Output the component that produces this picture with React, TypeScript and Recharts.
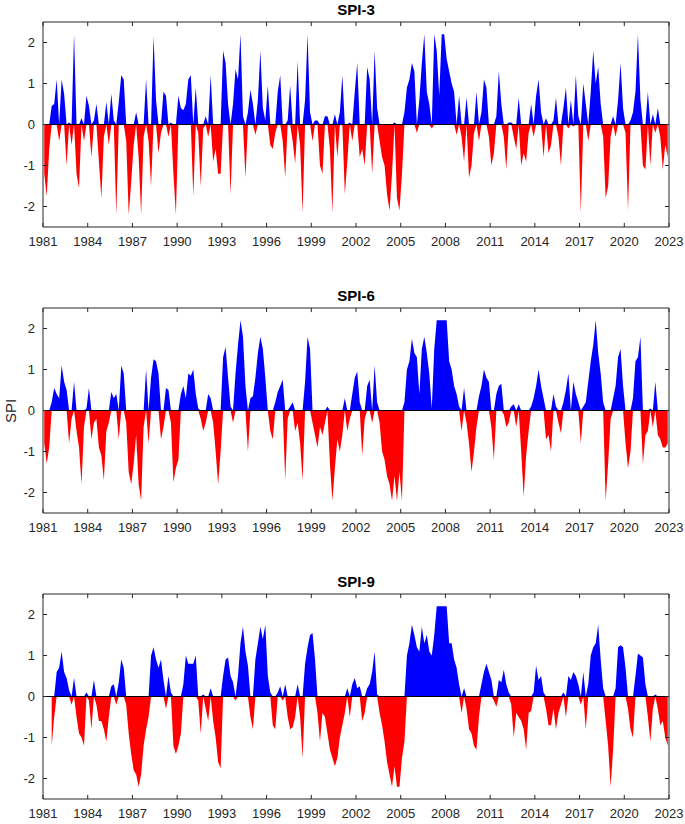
import { AreaChart, Area, XAxis, YAxis, ReferenceLine, ReferenceArea } from "recharts";

// ── Data: SPI values, bimonthly (Jan, Mar, May, Jul, Sep, Nov), 1981–2022 ──

const START_YEAR = 1981;
const END_YEAR = 2023;
const STEPS_PER_YEAR = 6;

const YEAR_TICKS = [1981, 1984, 1987, 1990, 1993, 1996, 1999, 2002, 2005, 2008, 2011, 2014, 2017, 2020, 2023];
const SPI_TICKS = [-2, -1, 0, 1, 2];
const SPI_MIN = -2.5;
const SPI_MAX = 2.5;

const spi3: (number | null)[] = [
  -1.2, -1.75, -0.6, 0.45, 0.5, 1.1,   // 1981
  -0.4, 1.1, 0.75, -1.0, 0.05, -0.5,   // 1982
  2.2, -1.2, -1.55, 0.15, -0.4, 0.7,   // 1983
  0.45, -0.8, 0.1, 0.5, -0.9, -1.8,    // 1984
  -0.3, 0.55, -0.5, 0.75, 0.1, -2.2,   // 1985
  0.55, 1.2, 1.1, -0.4, -2.2, -1.4,    // 1986
  -0.5, 0.3, -0.8, -2.2, -0.3, 1.1,    // 1987
  -0.4, -1.5, 2.15, 0.6, -0.7, -0.2,   // 1988
  0.8, 0.7, -0.3, 0.05, -1.2, -2.2,    // 1989
  0.7, 0.4, 0.35, 0.5, 1.1, 1.2,       // 1990
  -1.75, 0.9, -0.2, -1.5, -0.1, 0.2,   // 1991
  -0.3, 1.2, -0.9, -0.6, -1.2, -1.2,   // 1992
  1.8, 1.5, 0.5, -1.7, 0.5, 1.35,      // 1993
  1.1, 2.2, 0.2, -1.3, 0.3, 0.85,      // 1994
  0.5, -0.25, 0.6, 1.8, 0.4, 0.1,      // 1995
  0.95, -0.5, -0.6, -0.2, 0.8, 1.2,    // 1996
  -0.4, -1.3, 0.1, 0.95, -0.4, -0.95,  // 1997
  1.55, -0.5, -2.15, 0.6, 2.2, 0.3,    // 1998
  -0.4, 0.1, 0.1, -1.0, -1.2, 0.2,     // 1999
  0.2, -0.6, -2.15, 0.25, -0.8, 0.3,   // 2000
  1.2, -1.7, -0.9, 0.05, -0.4, 0.8,    // 2001
  1.5, -0.8, -0.6, -1.0, 1.4, 1.1,     // 2002
  -1.2, 1.8, 0.4, -0.4, -0.8, -1.0,    // 2003
  -1.7, -2.1, -1.2, 0.05, -1.8, -2.1,  // 2004
  -1.2, 0.3, 0.9, 1.1, 1.5, 1.3,       // 2005
  -0.2, 0.6, 1.5, 2.2, 0.8, 0.5,       // 2006
  -0.1, 2.2, 1.8, 0.7, 2.2, 2.2,       // 2007
  1.6, 1.3, 1.0, 0.8, -0.25, 0.7,      // 2008
  -0.3, -0.9, 0.65, -1.3, -1.0, -0.2,  // 2009
  0.8, -0.4, 0.3, 1.1, 0.9, -0.3,      // 2010
  -1.0, -0.7, 0.2, 1.3, 0.5, -0.3,     // 2011
  -1.1, 0.05, 0.05, -0.3, -0.6, 0.65,  // 2012
  -1.0, -0.7, -0.9, -0.2, 0.5, -0.3,   // 2013
  0.7, 1.1, 0.3, -0.8, 0.15, -0.7,     // 2014
  -0.5, 0.1, 0.65, -0.3, -1.0, 0.4,    // 2015
  0.9, -0.1, 0.6, -0.05, 1.2, 0.2,     // 2016
  -2.15, 1.0, 0.5, -0.4, 0.8, 1.8,     // 2017
  1.0, 1.4, 0.5, -0.3, -1.8, -1.5,     // 2018
  -0.3, 0.2, -0.3, 0.6, 1.5, 0.4,      // 2019
  -0.2, -2.1, 0.1, 0.3, 0.8, 2.2,      // 2020
  0.6, -1.0, -1.1, 0.8, -1.0, 0.25,    // 2021
  -0.2, 0.4, -0.3, -1.1, -0.5, -0.8,   // 2022
];

const spi6: (number | null)[] = [
  -0.8, -1.3, -0.9, 0.2, 0.55, 0.4,    // 1981
  0.3, 1.1, 0.7, 0.5, -0.8, -0.2,      // 1982
  0.7, -0.5, -0.9, -1.8, -0.4, 0.05,   // 1983
  0.55, -0.7, -0.3, -0.2, -0.9, -1.1,  // 1984
  -1.7, -0.5, -0.3, 0.45, 0.3, 0.4,    // 1985
  -0.7, 1.1, 0.9, -0.3, -1.5, -1.8,    // 1986
  -1.3, -0.6, -1.8, -2.2, -0.4, 1.0,   // 1987
  -0.8, 0.8, 1.25, 1.2, 0.9, -0.7,     // 1988
  -0.4, 0.55, 0.5, -0.3, -1.75, -1.4,  // 1989
  -1.2, 0.4, 0.6, 0.3, 0.9, 0.85,      // 1990
  1.0, 0.4, 0.05, -0.2, -0.5, -0.3,    // 1991
  0.4, 0.3, -0.3, -1.0, -1.8, -1.0,    // 1992
  1.3, 1.55, 0.8, 0.1, -0.3, 0.9,      // 1993
  1.6, 2.2, 1.8, 0.6, -1.0, 0.3,       // 1994
  0.35, 0.8, 1.4, 1.8, 1.5, 0.8,       // 1995
  0.0, -0.5, -0.7, 0.2, 0.45, 0.6,     // 1996
  0.75, -1.7, -0.2, 0.1, 0.2, -0.5,    // 1997
  -0.3, -0.8, -1.7, 0.7, 1.8, 1.5,     // 1998
  -0.3, -0.6, -0.9, -0.4, -0.6, -0.3,  // 1999
  0.1, -1.3, -2.2, -1.4, -0.7, -1.0,   // 2000
  -0.6, 0.3, -0.5, -0.2, 0.4, 0.8,     // 2001
  0.95, 0.2, -1.1, -0.2, 0.6, 0.75,    // 2002
  -0.3, 1.1, 0.2, -0.3, -1.0, -1.2,    // 2003
  -1.6, -1.8, -2.2, -1.6, -2.2, -1.5,  // 2004
  -2.2, 0.2, 1.0, 1.2, 1.75, 1.4,      // 2005
  1.3, 0.4, 1.5, 1.8, 1.4, 0.9,        // 2006
  0.05, 1.5, 2.2, 2.2, 2.2, 2.2,       // 2007
  2.2, 1.2, 1.0, 0.6, 0.4, 0.1,        // 2008
  -0.5, 0.55, -0.3, -0.8, -1.5, -1.0,  // 2009
  -0.4, 0.35, 0.6, 1.0, 0.8, 0.7,      // 2010
  -0.4, -1.2, 0.4, 0.6, 0.65, -0.1,    // 2011
  -0.4, -0.3, 0.1, 0.15, -0.4, 0.15,   // 2012
  -1.0, -2.1, -1.1, -0.5, 0.1, 0.3,    // 2013
  0.6, 1.0, 0.6, 0.3, -0.7, -0.6,      // 2014
  -1.0, 0.4, 0.1, -0.3, -0.55, 0.2,    // 2015
  0.5, 0.9, 0.0, 0.7, 0.4, 0.2,        // 2016
  -0.8, 0.1, 0.2, 0.7, 1.2, 1.6,       // 2017
  2.2, 1.4, 0.9, 0.2, -2.2, -1.3,      // 2018
  -0.2, 0.3, 0.6, 1.3, 1.5, 0.6,       // 2019
  -0.8, -1.4, -1.0, 0.3, 1.2, 1.3,     // 2020
  1.8, -1.3, -0.6, -0.5, 0.05, -0.4,   // 2021
  0.7, -0.6, -0.7, -0.9, -0.9, -0.8,   // 2022
];

const spi9: (number | null)[] = [
  null, null, null, -1.2, -0.5, 0.6,   // 1981
  0.7, 1.1, 0.6, 0.45, 0.15, -0.2,     // 1982
  0.45, -0.5, -0.9, -1.0, -1.2, 0.1,   // 1983
  -0.1, -0.8, 0.4, -0.2, -0.6, -0.6,   // 1984
  -0.8, -1.1, -0.5, 0.25, 0.3, -0.2,   // 1985
  0.35, 0.9, 0.7, -0.2, -0.9, -1.4,    // 1986
  -1.8, -1.9, -2.2, -1.9, -1.2, -0.8,  // 1987
  -0.5, 1.0, 1.2, 0.9, 0.7, 0.9,       // 1988
  0.4, -0.3, 0.5, 0.1, -1.2, -1.4,     // 1989
  -1.2, -0.9, 0.3, 1.0, 0.8, 0.8,      // 1990
  0.8, 1.0, -0.1, -0.9, 0.05, -0.3,    // 1991
  -0.6, 0.2, -0.6, -1.0, -1.6, -1.75,  // 1992
  0.5, 0.9, 0.95, 0.5, 0.35, -0.1,     // 1993
  0.5, 1.3, 1.7, 1.1, 0.75, -0.5,      // 1994
  -0.8, 0.9, 1.3, 1.7, 1.4, 1.75,      // 1995
  0.5, 0.1, -0.7, -0.8, 0.1, 0.25,     // 1996
  -0.1, 0.3, -0.5, -0.8, -0.75, -0.5,  // 1997
  0.3, -0.5, -1.5, 0.8, 1.2, 1.5,      // 1998
  1.55, 0.9, -0.4, -1.1, -0.4, -0.5,   // 1999
  -0.9, -1.3, -1.5, -1.7, -1.5, -1.0,  // 2000
  -0.7, -0.4, 0.2, -0.5, 0.3, 0.45,    // 2001
  0.2, 0.25, -0.6, -0.4, 0.2, 0.3,     // 2002
  0.6, 1.1, 0.05, -0.4, -0.7, -1.1,    // 2003
  -1.6, -1.9, -2.2, -1.7, -2.2, -2.2,  // 2004
  -1.5, -1.1, 1.0, 1.3, 1.75, 1.5,     // 2005
  1.2, 1.1, 1.7, 1.3, 1.5, 1.1,        // 2006
  1.0, 1.5, 2.2, 2.2, 2.2, 2.2,        // 2007
  2.2, 1.3, 1.3, 0.9, 0.7, 0.3,        // 2008
  -0.4, 0.2, -0.3, -0.8, -0.9, -1.2,   // 2009
  -1.3, -0.5, 0.3, 0.6, 0.8, 0.6,      // 2010
  0.4, -0.1, -0.25, 0.4, 0.35, 0.65,   // 2011
  0.3, 0.1, -0.2, -1.0, -0.4, -0.5,    // 2012
  -0.6, -0.8, -1.3, -0.4, -0.35, 0.1,  // 2013
  0.75, 0.4, 0.5, 0.1, -0.3, -0.7,     // 2014
  -0.7, -0.3, -0.8, -0.4, -0.2, 0.1,   // 2015
  -0.5, 0.5, 0.4, 0.6, 0.5, 0.3,       // 2016
  -0.2, 0.6, -0.8, 0.3, 1.0, 1.2,      // 2017
  1.3, 1.75, 0.9, 0.2, -0.6, -1.2,     // 2018
  -2.2, -1.3, 0.2, 1.2, 1.25, 1.2,     // 2019
  0.7, -0.3, -0.8, -1.0, 0.5, 1.05,    // 2020
  1.0, 0.95, 0.3, -0.5, -1.1, -0.3,    // 2021
  0.05, -0.3, -0.7, -0.6, -1.0, -1.2,  // 2022
];

// ── Styling ──────────────────────────────────────────────────

const FONT = '"Liberation Sans", Arial, Helvetica, sans-serif';
const AXIS = "#262626";
const TICK = { fontSize: 13, fill: AXIS, fontFamily: FONT };

const W = 685;
const H = 252;

// inward tick length, in data units (≈4px on each axis)
const TICK_LEN_YEARS = 0.27;
const TICK_LEN_SPI = 0.1;

// ── One SPI panel ────────────────────────────────────────────

function SpiPanel({ title, values, top }: { title: string; values: (number | null)[]; top: number }) {
  const rows = values.map((v, i) => ({
    t: START_YEAR + (i + 0.5) / STEPS_PER_YEAR,
    pos: v == null ? null : Math.max(v, 0),
    neg: v == null ? null : Math.min(v, 0),
  }));

  return (
    <div style={{ position: "absolute", left: 0, top, width: W, height: H }}>
      <div
        style={{
          position: "absolute", left: 43, width: 626, top: 1,
          textAlign: "center", fontFamily: FONT, fontWeight: 700, fontSize: 15, color: "#000",
        }}
      >
        {title}
      </div>
      <AreaChart width={W} height={H} data={rows} margin={{ top: 22, right: 16, bottom: 0, left: 0 }}>
        <XAxis
          dataKey="t" type="number" domain={[START_YEAR, END_YEAR]} ticks={YEAR_TICKS} allowDataOverflow
          height={25} tick={TICK} tickLine={false} tickSize={0} tickMargin={10} interval={0}
          axisLine={false}
        />
        <YAxis
          type="number" domain={[SPI_MIN, SPI_MAX]} ticks={SPI_TICKS} allowDataOverflow
          width={43} tick={TICK} tickLine={false} tickSize={0} tickMargin={8} interval={0}
          axisLine={false}
        />
        <Area
          dataKey="pos" type="linear" baseValue={0} fill="#0000ff" fillOpacity={1}
          stroke="none" dot={false} activeDot={false} isAnimationActive={false}
        />
        <Area
          dataKey="neg" type="linear" baseValue={0} fill="#ff0000" fillOpacity={1}
          stroke="none" dot={false} activeDot={false} isAnimationActive={false}
        />
        <ReferenceLine y={0} stroke="#000" strokeWidth={1} />

        {/* box */}
        <ReferenceArea
          x1={START_YEAR} x2={END_YEAR} y1={SPI_MIN} y2={SPI_MAX}
          fill="none" fillOpacity={0} stroke={AXIS} strokeWidth={1} ifOverflow="visible"
        />

        {/* inward ticks, bottom + top */}
        {YEAR_TICKS.map((yr) => (
          <ReferenceLine
            key={`b${yr}`} stroke={AXIS} ifOverflow="visible"
            segment={[{ x: yr, y: SPI_MIN }, { x: yr, y: SPI_MIN + TICK_LEN_SPI }]}
          />
        ))}
        {YEAR_TICKS.map((yr) => (
          <ReferenceLine
            key={`t${yr}`} stroke={AXIS} ifOverflow="visible"
            segment={[{ x: yr, y: SPI_MAX }, { x: yr, y: SPI_MAX - TICK_LEN_SPI }]}
          />
        ))}

        {/* inward ticks, left + right */}
        {SPI_TICKS.map((s) => (
          <ReferenceLine
            key={`l${s}`} stroke={AXIS} ifOverflow="visible"
            segment={[{ x: START_YEAR, y: s }, { x: START_YEAR + TICK_LEN_YEARS, y: s }]}
          />
        ))}
        {SPI_TICKS.map((s) => (
          <ReferenceLine
            key={`r${s}`} stroke={AXIS} ifOverflow="visible"
            segment={[{ x: END_YEAR, y: s }, { x: END_YEAR - TICK_LEN_YEARS, y: s }]}
          />
        ))}
      </AreaChart>
    </div>
  );
}

export default function App() {
  return (
    <div style={{ position: "absolute", left: 0, top: 0, width: W, height: 824, background: "#fff", overflow: "hidden" }}>
      <SpiPanel title="SPI-3" values={spi3} top={0} />
      <SpiPanel title="SPI-6" values={spi6} top={286} />
      <SpiPanel title="SPI-9" values={spi9} top={572} />
      <div
        style={{
          position: "absolute", left: 10, top: 411, transform: "translate(-50%, -50%) rotate(-90deg)",
          fontFamily: FONT, fontSize: 15, color: AXIS, whiteSpace: "nowrap",
        }}
      >
        SPI
      </div>
    </div>
  );
}
